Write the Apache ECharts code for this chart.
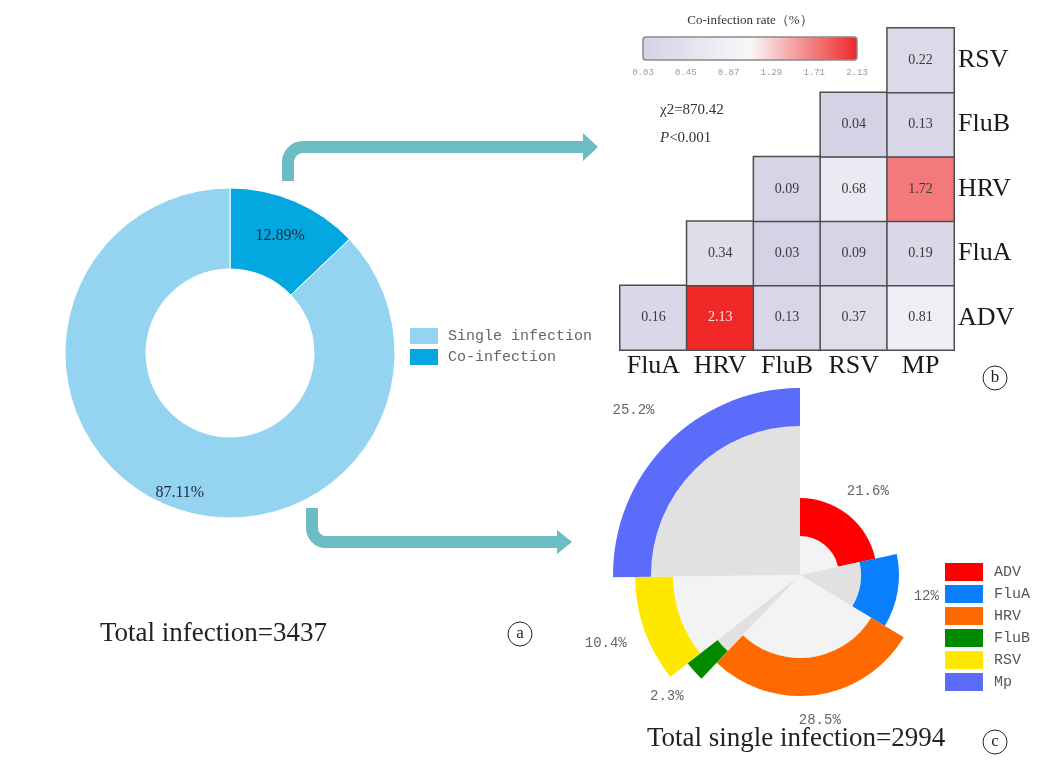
<!DOCTYPE html>
<html><head><meta charset="utf-8">
<script src="https://cdn.jsdelivr.net/npm/echarts@6/dist/echarts.min.js"></script>
<style>html,body{margin:0;padding:0;background:#fff}#c{width:1039px;height:763px}</style>
</head><body><div id="c"></div>
<script>
// ---------- Panel a: all infections ----------
const infectionTypes = ['Co-infection', 'Single infection'];
const infectionShares = [12.89, 87.11];
const totalInfection = 3437;

// ---------- Panel b: co-infection rate matrix ----------
const heatCols = ['FluA', 'HRV', 'FluB', 'RSV', 'MP'];
const heatRows = ['ADV', 'FluA', 'HRV', 'FluB', 'RSV']; // bottom -> top
const rateADV  = [0.16, 2.13, 0.13, 0.37, 0.81]; // cols FluA..MP
const rateFluA = [null, 0.34, 0.03, 0.09, 0.19];
const rateHRV  = [null, null, 0.09, 0.68, 1.72];
const rateFluB = [null, null, null, 0.04, 0.13];
const rateRSV  = [null, null, null, null, 0.22];
const colorbarTicks = ['0.03', '0.45', '0.87', '1.29', '1.71', '2.13'];
const chiSquare = '870.42';
const pValue = '<0.001';

// ---------- Panel c: single infections ----------
const singleViruses = ['ADV', 'FluA', 'HRV', 'FluB', 'RSV', 'Mp'];
const singleShares = [21.6, 12, 28.5, 2.3, 10.4, 25.2];
const totalSingle = 2994;

// ---------- styles ----------
const SERIF = "'Liberation Serif', 'Times New Roman', serif";
const MONO = "'Liberation Mono', 'DejaVu Sans Mono', monospace";
const donutColors = { 'Single infection': '#95d4f1', 'Co-infection': '#02a8df' };
const virusColors = ['#ff0000', '#0a7ffb', '#ff6a00', '#008a00', '#ffe800', '#5b6cfb'];
const roseLabelGap = [28, 26, 23, 34, 38, 44]; // label distance beyond each band (style)
const teal = '#6cbcc3';

const chart = echarts.init(document.getElementById('c'), null, { renderer: 'canvas' });
const series = [];

// Donut (a)
series.push({
  type: 'pie', center: [230, 353], radius: [84, 165], startAngle: 90, clockwise: true,
  silent: true, animation: false, avoidLabelOverlap: false,
  itemStyle: { borderColor: '#ffffff', borderWidth: 1 },
  label: { show: true, position: 'inside',
           formatter: p => (p.name === 'Single infection' ? '{sp| }\n' : '') + '{v|' + p.value.toFixed(2) + '%}',
           rich: { sp: { lineHeight: 46, fontSize: 10 },
                   v: { fontFamily: SERIF, fontSize: 16, color: '#1b2a38', lineHeight: 20 } } },
  labelLine: { show: false },
  data: infectionTypes.map((n, i) => ({ name: n, value: infectionShares[i], itemStyle: { color: donutColors[n] } }))
});

// Heatmap (b)
const heatRowsData = [rateADV, rateFluA, rateHRV, rateFluB, rateRSV];
const heatData = [];
heatRowsData.forEach((row, r) => row.forEach((v, c) => {
  if (v !== null) {
    const item = { value: [c, r, v] };
    if (v > 2) item.label = { color: '#ffe4e4' };
    heatData.push(item);
  }
}));
const heatIndex = series.length;
series.push({
  type: 'heatmap', xAxisIndex: 0, yAxisIndex: 0, data: heatData, silent: true, animation: false,
  label: { show: true, formatter: p => p.value[2].toFixed(2), fontFamily: SERIF, fontSize: 14, color: '#3a3a3a' },
  itemStyle: { borderColor: '#4d4d4d', borderWidth: 1.5 },
  emphasis: { disabled: true }
});

// Rose-like pie (c)
let cum = 0;
const blank = val => ({ value: val, itemStyle: { color: 'rgba(0,0,0,0)' }, label: { show: false } });
singleViruses.forEach((v, i) => {
  const before = cum;
  const share = singleShares[i];
  const after = Math.max(0, 100 - cum - share);
  cum += share;
  const outer = 77 + 22 * i, inner = outer - 38;
  const base = { type: 'pie', center: [800, 575], startAngle: 90, clockwise: true, silent: true,
                 animation: false, avoidLabelOverlap: false, labelLine: { show: false },
                 emphasis: { disabled: true }, label: { show: false } };
  series.push(Object.assign({}, base, { radius: [0, inner],
    data: [blank(before), { value: share, itemStyle: { color: i % 2 ? '#e1e1e1' : '#f3f3f3' }, label: { show: false } }, blank(after)] }));
  series.push(Object.assign({}, base, { radius: [inner, outer],
    data: [blank(before), { name: v, value: share, itemStyle: { color: virusColors[i] }, label: { show: false } }, blank(after)] }));
  series.push(Object.assign({}, base, { radius: [outer, outer + 2 * roseLabelGap[i]],
    data: [blank(before), { value: share, itemStyle: { color: 'rgba(0,0,0,0)' },
      label: { show: true, position: 'inside', formatter: share + '%', fontFamily: MONO, fontSize: 14, color: '#666' } }, blank(after)] }));
});

// Graphics: arrows, titles, annotations
const arrowStyle = { stroke: teal, lineWidth: 12, fill: 'none' };
const graphics = [
  { type: 'line', shape: { x1: 288, y1: 181, x2: 288, y2: 161 }, style: arrowStyle },
  { type: 'arc', shape: { cx: 303, cy: 162, r: 15, startAngle: Math.PI, endAngle: Math.PI * 1.5, clockwise: true }, style: arrowStyle },
  { type: 'line', shape: { x1: 302, y1: 147, x2: 585, y2: 147 }, style: arrowStyle },
  { type: 'polygon', shape: { points: [[583, 133], [598, 147], [583, 161]] }, style: { fill: teal } },
  { type: 'line', shape: { x1: 312, y1: 508, x2: 312, y2: 529 }, style: arrowStyle },
  { type: 'arc', shape: { cx: 326, cy: 528, r: 14, startAngle: Math.PI * 0.5, endAngle: Math.PI, clockwise: true }, style: arrowStyle },
  { type: 'line', shape: { x1: 325, y1: 542, x2: 559, y2: 542 }, style: arrowStyle },
  { type: 'polygon', shape: { points: [[557, 530], [572, 542], [557, 554]] }, style: { fill: teal } },
  { type: 'text', left: 100, top: 620, style: { text: 'Total infection=' + totalInfection, font: '27px ' + SERIF, fill: '#222' } },
  { type: 'text', left: 647, top: 725, style: { text: 'Total single infection=' + totalSingle, font: '27px ' + SERIF, fill: '#222' } },
  { type: 'text', x: 750, y: 21, style: { text: 'Co-infection rate（%）', font: '13px ' + SERIF, fill: '#333', align: 'center', verticalAlign: 'middle' } },
  { type: 'rect', shape: { x: 643, y: 37, width: 214, height: 23, r: 3 }, style: { stroke: '#8a8a8a', lineWidth: 1.5, fill: 'none' }, z: 10 },
  { type: 'text', x: 660, y: 110, style: { text: 'χ2=' + chiSquare, font: '15px ' + SERIF, fill: '#333', verticalAlign: 'middle' } },
  { type: 'text', x: 660, y: 138, style: { text: '{i|P}' + pValue, font: '15px ' + SERIF, fill: '#333', verticalAlign: 'middle',
      rich: { i: { fontStyle: 'italic', fontFamily: SERIF, fontSize: 15, fill: '#333' } } } }
];
colorbarTicks.forEach((t, i) => {
  graphics.push({ type: 'text', x: 643 + i * 214 / (colorbarTicks.length - 1), y: 73,
    style: { text: t, font: '9px ' + MONO, fill: '#9a9a9a', align: 'center', verticalAlign: 'middle' } });
});
[['a', 520, 634], ['b', 995, 378], ['c', 995, 742]].forEach(([ch, x, y]) => {
  graphics.push({ type: 'circle', shape: { cx: x, cy: y, r: 12 }, style: { stroke: '#222', lineWidth: 1, fill: 'none' } });
  graphics.push({ type: 'text', x: x, y: y, style: { text: ch, font: '17px ' + SERIF, fill: '#222', align: 'center', verticalAlign: 'middle' } });
});

chart.setOption({
  backgroundColor: '#ffffff',
  animation: false,
  grid: { left: 620, top: 28, width: 334, height: 322 },
  xAxis: { type: 'category', data: heatCols, position: 'bottom',
    axisLine: { show: false }, axisTick: { show: false }, splitLine: { show: false },
    axisLabel: { interval: 0, hideOverlap: false, fontFamily: SERIF, fontSize: 26, color: '#1a1a1a', margin: 3 } },
  yAxis: { type: 'category', data: heatRows, position: 'right',
    axisLine: { show: false }, axisTick: { show: false }, splitLine: { show: false },
    axisLabel: { interval: 0, fontFamily: SERIF, fontSize: 26, color: '#1a1a1a', margin: 4 } },
  visualMap: {
    type: 'continuous', seriesIndex: heatIndex, min: 0.03, max: 2.13, orient: 'horizontal',
    left: 643, top: 37, itemWidth: 23, itemHeight: 214, padding: 0,
    calculable: false, hoverLink: false, realtime: false,
    inRange: { color: ['#d3d3e5', '#f8f8fa', '#ef2828'] }
  },
  legend: [
    { data: ['Single infection', 'Co-infection'], orient: 'vertical', left: 408, top: 326,
      icon: 'rect', itemWidth: 30, itemHeight: 18, itemGap: 1, selectedMode: false, padding: 0,
      textStyle: { fontFamily: MONO, fontSize: 15, color: '#666', padding: [0, 0, 0, 4] } },
    { data: singleViruses, orient: 'vertical', left: 945, top: 563,
      icon: 'rect', itemWidth: 38, itemHeight: 18, itemGap: 4, selectedMode: false, padding: 0,
      textStyle: { fontFamily: MONO, fontSize: 15, color: '#555', padding: [0, 0, 0, 6] } }
  ],
  series: series,
  graphic: graphics
});
</script></body></html>
